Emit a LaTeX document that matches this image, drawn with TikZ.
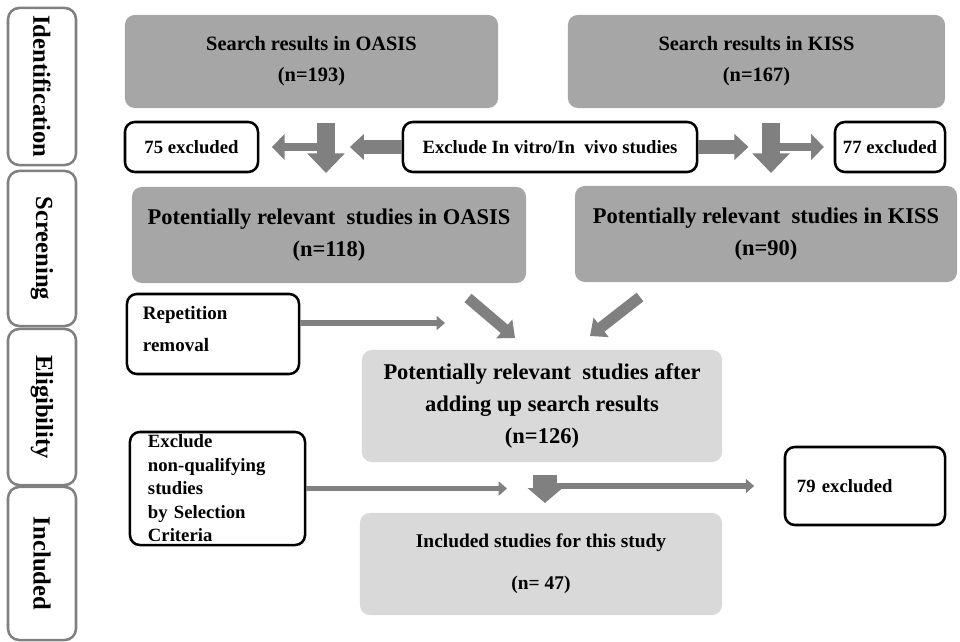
\documentclass[tikz,border=0pt]{standalone}
\usepackage{fontspec}
\setmainfont{Liberation Serif}
\usetikzlibrary{arrows.meta,positioning}
\usepackage{xcolor}
\definecolor{boxgray}{RGB}{166,166,166}
\definecolor{palegray}{RGB}{217,217,217}
\definecolor{arrowgray}{RGB}{128,128,128}
\definecolor{tabgray}{RGB}{128,128,128}

\tikzset{
  darkbox/.style={fill=boxgray, rounded corners=7pt, align=center, inner sep=0pt,
    font=\fontsize{14.5}{22}\selectfont\bfseries},
  palebox/.style={fill=palegray, rounded corners=7pt, align=center, inner sep=0pt,
    font=\fontsize{16}{23}\selectfont\bfseries},
  notebox/.style={draw=black, line width=1.8pt, fill=white, rounded corners=7pt,
    inner sep=0pt, font=\fontsize{13.3}{16.5}\selectfont\bfseries},
  phasetab/.style={draw=tabgray, line width=1.8pt, rounded corners=8pt, rotate=-90,
    minimum height=1.7cm, inner sep=0pt, font=\fontsize{17.5}{19}\selectfont\bfseries},
  bigarrow/.style={draw=arrowgray, line width=12.8pt, -{Triangle[width=26pt,length=14pt]}},
  midarrow/.style={draw=arrowgray, line width=10pt, -{Triangle[width=18pt,length=10pt]}},
  brancharrow/.style={draw=arrowgray, line width=5pt, -{Triangle[width=18pt,length=9pt]}},
  slantarrow/.style={draw=arrowgray, line width=7.8pt, -{Triangle[width=17pt,length=10pt]}},
  thinarrow/.style={draw=arrowgray, line width=3.8pt, -{Triangle[width=10pt,length=6pt]}},
  stubarrow/.style={draw=arrowgray, line width=17pt, -{Triangle[width=24pt,length=10.5pt]}}
}

\begin{document}
\begin{tikzpicture}[x=0.025cm, y=-0.025cm]
    \useasboundingbox (0,0) rectangle (960,642);

    % Phase tabs
    \node[phasetab, minimum width=3.925cm] (tabid) at (42,86.5) {Identification};
    \node[phasetab, minimum width=3.875cm] (tabsc) at (42,248.5) {Screening};
    \node[phasetab, minimum width=3.9cm] (tabel) at (42,407) {Eligibility};
    \node[phasetab, minimum width=3.825cm] (tabin) at (42,563.5) {Included};

    % Search results
    \node[darkbox, minimum width=9.325cm, minimum height=2.325cm] (oasis) at (311.5,61.5)
        {Search results in OASIS\\(n=193)};
    \node[darkbox, minimum width=9.425cm, minimum height=2.325cm] (kiss) at (756.5,61.5)
        {Search results in KISS\\(n=167)};

    % First exclusion
    \node[notebox, minimum width=3.325cm, minimum height=1.25cm] (excla) at (191.5,147) {75 excluded};
    \node[notebox, minimum width=7.35cm, minimum height=1.25cm] (invitro) at (550,147)
        {Exclude In vitro/In\ \ vivo studies};
    \node[notebox, minimum width=2.75cm, minimum height=1.25cm] (exclb) at (890,147) {77 excluded};

    % Potentially relevant studies
    \node[darkbox, minimum width=9.85cm, minimum height=2.4cm, font=\fontsize{16}{23}\selectfont\bfseries]
        (reloasis) at (329,235) {Potentially relevant\ \ studies in OASIS\\(n=118)};
    \node[darkbox, minimum width=9.55cm, minimum height=2.4cm, font=\fontsize{16}{23}\selectfont\bfseries]
        (relkiss) at (766,234) {Potentially relevant\ \ studies in KISS\\(n=90)};

    % Merging
    \node[notebox, minimum width=4.3cm, minimum height=2cm, text width=3.5cm, align=left,
        font=\fontsize{13.5}{23}\selectfont\bfseries] (repeat) at (213,334)
        {Repetition\\removal\\[-16pt]\mbox{}};
    \node[palebox, minimum width=9cm, minimum height=2.8cm] (relall) at (542,406)
        {Potentially relevant\ \ studies after\\adding up search results\\(n=126)};

    % Selection criteria
    \node[notebox, minimum width=4.375cm, minimum height=2.825cm, text width=3.475cm, align=left,
        font=\fontsize{13.3}{16.7}\selectfont\bfseries] (selcrit) at (217.5,488.5)
        {Exclude\\non-qualifying\\studies\\by Selection\\Criteria};
    \node[notebox, minimum width=4cm, minimum height=1.95cm, text width=3.4cm, align=left] (exclc) at (865,486)
        {79 excluded};
    \node[palebox, minimum width=9.05cm, minimum height=2.55cm, font=\fontsize{13.8}{20}\selectfont\bfseries]
        (incl) at (541,564) {Included studies for this study\\[10pt](n= 47)};

    % Arrows of the first exclusion
    \coordinate (odown) at (326,123);
    \coordinate (kdown) at (771,123);
    \draw[bigarrow] (odown) -- ++(0,50);
    \draw[bigarrow] (kdown) -- ++(0,50);
    \draw[brancharrow, shorten >=9pt] (odown |- excla.east) -- (excla.east);
    \draw[brancharrow, shorten >=7pt] (kdown |- exclb.west) -- (exclb.west);
    \draw[midarrow, shorten >=17pt] (invitro.west) -- (odown |- invitro.west);
    \draw[midarrow, shorten >=16pt] (invitro.east) -- (kdown |- invitro.east);

    % Arrows of the merging
    \coordinate (reptip) at (445,323);
    \coordinate (slaa) at (468,298);
    \coordinate (slab) at (515,338);
    \coordinate (slba) at (640,297);
    \coordinate (slbb) at (590,336);
    \draw[thinarrow] (repeat.east |- reptip) -- (reptip);
    \draw[slantarrow] (slaa) -- (slab);
    \draw[slantarrow] (slba) -- (slbb);

    % Arrows of the selection
    \coordinate (seldown) at (545,475);
    \draw[thinarrow, shorten >=27pt] (selcrit.east) -- (seldown |- selcrit.east);
    \draw[thinarrow, shorten >=21pt] (seldown |- exclc.west) -- (exclc.west);
    \draw[stubarrow] (seldown) -- ++(0,28);
\end{tikzpicture}
\end{document}
